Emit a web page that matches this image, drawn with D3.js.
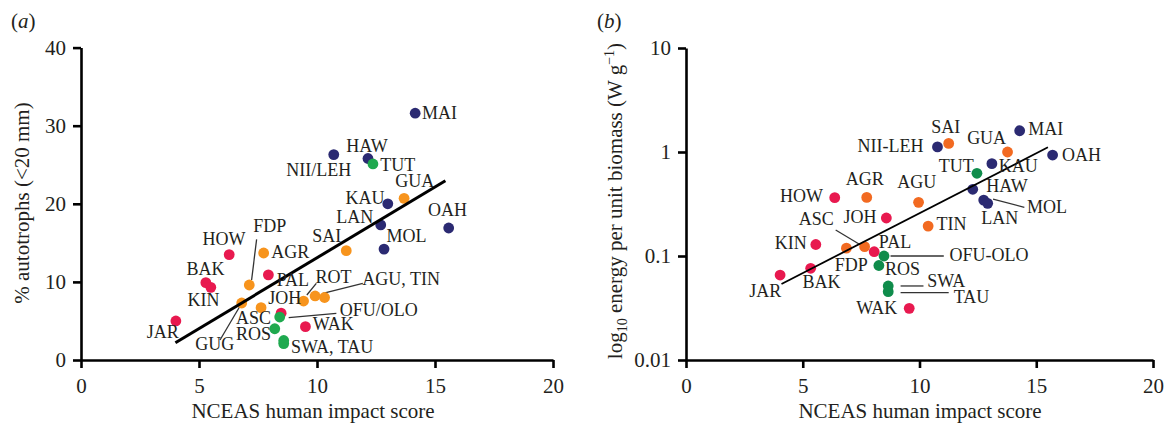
<!DOCTYPE html>
<html>
<head>
<meta charset="utf-8">
<script src="https://cdn.jsdelivr.net/npm/d3@7"></script>
<style>
  body { margin: 0; background: #fff; }
  text { font-family: "Liberation Serif", "Times New Roman", serif; fill: #231f20; }
</style>
</head>
<body>
<svg id="chart"></svg>
<script>
// ---- data ----
const xTicks = [0, 5, 10, 15, 20];
const yTicksA = [0, 10, 20, 30, 40];
const yTicksB = [0.01, 0.1, 1, 10];

// panel (a): NCEAS score vs % autotrophs
const sitesA = [
    { site: "MAI", impact: 14.16, value: 31.6, group: "navy" },
    { site: "NII/LEH", impact: 10.71, value: 26.3, group: "navy" },
    { site: "HAW", impact: 12.16, value: 25.8, group: "navy" },
    { site: "TUT", impact: 12.37, value: 25.1, group: "green" },
    { site: "GUA", impact: 13.69, value: 20.7, group: "orange" },
    { site: "KAU", impact: 13.0, value: 20.0, group: "navy" },
    { site: "LAN", impact: 12.70, value: 17.3, group: "navy" },
    { site: "OAH", impact: 15.58, value: 16.9, group: "navy" },
    { site: "MOL", impact: 12.84, value: 14.2, group: "navy" },
    { site: "SAI", impact: 11.24, value: 14.0, group: "orange" },
    { site: "HOW", impact: 6.28, value: 13.5, group: "red" },
    { site: "AGR", impact: 7.74, value: 13.7, group: "orange" },
    { site: "PAL", impact: 7.94, value: 10.9, group: "red" },
    { site: "FDP", impact: 7.13, value: 9.6, group: "orange" },
    { site: "BAK", impact: 5.29, value: 9.9, group: "red" },
    { site: "KIN", impact: 5.50, value: 9.3, group: "red" },
    { site: "GUG", impact: 6.81, value: 7.3, group: "orange" },
    { site: "ASC", impact: 7.63, value: 6.7, group: "orange" },
    { site: "JOH", impact: 8.48, value: 6.0, group: "red" },
    { site: "ROT", impact: 9.43, value: 7.55, group: "orange" },
    { site: "AGU", impact: 9.92, value: 8.2, group: "orange" },
    { site: "TIN", impact: 10.32, value: 8.0, group: "orange" },
    { site: "OFU/OLO", impact: 8.42, value: 5.5, group: "green" },
    { site: "ROS", impact: 8.21, value: 4.0, group: "green" },
    { site: "SWA", impact: 8.59, value: 2.1, group: "green" },
    { site: "TAU", impact: 8.59, value: 2.5, group: "green" },
    { site: "WAK", impact: 9.51, value: 4.27, group: "red" },
    { site: "JAR", impact: 4.02, value: 5.0, group: "red" }
];
const fitA = [{ impact: 4.0, value: 2.2 }, { impact: 15.44, value: 22.96 }];

// label anchors in data units (x, y of baseline start)
const labelsA = [
    { text: "MAI", x: 14.45, y: 30.86 },
    { text: "HAW", x: 11.24, y: 26.67 },
    { text: "TUT", x: 12.68, y: 24.24 },
    { text: "NII/LEH", x: 11.45, y: 23.6, anchor: "end" },
    { text: "GUA", x: 13.32, y: 22.11 },
    { text: "KAU", x: 11.21, y: 19.97 },
    { text: "OAH", x: 14.70, y: 18.48 },
    { text: "LAN", x: 10.82, y: 17.58 },
    { text: "SAI", x: 9.80, y: 15.15 },
    { text: "MOL", x: 12.94, y: 15.07 },
    { text: "HOW", x: 5.15, y: 14.72 },
    { text: "FDP", x: 7.30, y: 16.35 },
    { text: "AGR", x: 8.06, y: 13.02 },
    { text: "BAK", x: 4.47, y: 10.88 },
    { text: "PAL", x: 8.29, y: 9.51 },
    { text: "ROT", x: 9.94, y: 9.82 },
    { text: "AGU, TIN", x: 11.92, y: 9.60 },
    { text: "KIN", x: 4.51, y: 6.91 },
    { text: "JOH", x: 7.93, y: 7.17 },
    { text: "OFU/OLO", x: 10.96, y: 5.63 },
    { text: "ASC", x: 6.57, y: 4.61 },
    { text: "WAK", x: 9.82, y: 3.84 },
    { text: "ROS", x: 6.57, y: 2.56 },
    { text: "JAR", x: 2.79, y: 2.78 },
    { text: "GUG", x: 4.84, y: 1.28 },
    { text: "SWA, TAU", x: 8.90, y: 0.93 }
];
const leadersA = [
    [7.23, 10.24, 7.44, 15.45],
    [9.57, 8.32, 9.97, 9.82],
    [10.25, 8.54, 11.94, 9.82],
    [8.80, 5.42, 10.82, 5.98],
    [5.89, 2.56, 6.74, 6.91]
];

// panel (b): NCEAS score vs energy per unit biomass
const sitesB = [
    { site: "MAI", impact: 14.29, value: 1.60, group: "navy" },
    { site: "NII-LEH", impact: 10.77, value: 1.12, group: "navy" },
    { site: "SAI", impact: 11.25, value: 1.21, group: "orange" },
    { site: "GUA", impact: 13.77, value: 1.0, group: "orange" },
    { site: "OAH", impact: 15.70, value: 0.935, group: "navy" },
    { site: "KAU", impact: 13.10, value: 0.772, group: "navy" },
    { site: "TUT", impact: 12.46, value: 0.624, group: "green" },
    { site: "HAW", impact: 12.28, value: 0.438, group: "navy" },
    { site: "MOL", impact: 12.75, value: 0.345, group: "navy" },
    { site: "LAN", impact: 12.92, value: 0.321, group: "navy" },
    { site: "AGU", impact: 9.96, value: 0.328, group: "orange" },
    { site: "AGR", impact: 7.74, value: 0.366, group: "orange" },
    { site: "HOW", impact: 6.37, value: 0.364, group: "red" },
    { site: "JOH", impact: 8.58, value: 0.232, group: "red" },
    { site: "TIN", impact: 10.37, value: 0.194, group: "orange" },
    { site: "KIN", impact: 5.56, value: 0.129, group: "red" },
    { site: "FDP", impact: 6.87, value: 0.119, group: "orange" },
    { site: "ASC", impact: 7.65, value: 0.123, group: "orange" },
    { site: "PAL", impact: 8.06, value: 0.110, group: "red" },
    { site: "OFU-OLO", impact: 8.48, value: 0.100, group: "green" },
    { site: "ROS", impact: 8.26, value: 0.081, group: "green" },
    { site: "SWA", impact: 8.66, value: 0.0515, group: "green" },
    { site: "TAU", impact: 8.66, value: 0.0454, group: "green" },
    { site: "WAK", impact: 9.56, value: 0.0314, group: "red" },
    { site: "BAK", impact: 5.34, value: 0.0762, group: "red" },
    { site: "JAR", impact: 4.03, value: 0.0656, group: "red" }
];
const fitB = [{ impact: 4.09, value: 0.0538 }, { impact: 15.5, value: 1.11 }];

const labelsB = [
    { text: "NII-LEH", x: 10.17, y: 1.0, anchor: "end" },
    { text: "SAI", x: 10.50, y: 1.52 },
    { text: "GUA", x: 12.04, y: 1.19 },
    { text: "MAI", x: 14.66, y: 1.46 },
    { text: "OAH", x: 16.10, y: 0.818 },
    { text: "TUT", x: 10.82, y: 0.647 },
    { text: "KAU", x: 13.39, y: 0.647 },
    { text: "HAW", x: 12.86, y: 0.415 },
    { text: "MOL", x: 14.60, y: 0.258 },
    { text: "LAN", x: 12.64, y: 0.202 },
    { text: "AGU", x: 9.05, y: 0.448 },
    { text: "AGR", x: 6.84, y: 0.482 },
    { text: "HOW", x: 4.03, y: 0.328 },
    { text: "TIN", x: 10.73, y: 0.178 },
    { text: "ASC", x: 4.83, y: 0.199 },
    { text: "JOH", x: 6.75, y: 0.207 },
    { text: "KIN", x: 3.80, y: 0.116 },
    { text: "PAL", x: 8.26, y: 0.120 },
    { text: "OFU-OLO", x: 11.29, y: 0.0902 },
    { text: "FDP", x: 6.37, y: 0.0723 },
    { text: "ROS", x: 8.52, y: 0.0656 },
    { text: "BAK", x: 4.99, y: 0.0489 },
    { text: "JAR", x: 2.71, y: 0.0404 },
    { text: "SWA", x: 10.33, y: 0.0500 },
    { text: "TAU", x: 11.47, y: 0.0356 },
    { text: "WAK", x: 7.29, y: 0.0275 }
];
const leadersB = [
    [6.41, 0.178, 7.48, 0.1276],
    [8.76, 0.1, 11.04, 0.1],
    [9.19, 0.0515, 10.17, 0.0515],
    [9.19, 0.0444, 11.25, 0.0444],
    [13.15, 0.353, 14.49, 0.294]
];

// ---- drawing ----
const W = 1165, H = 423;
const svg = d3.select("#chart").attr("width", W).attr("height", H);

const paletteA = { navy: "#2b2a72", green: "#1fa94f", orange: "#f7941d", red: "#e8194f" };
const paletteB = { navy: "#2b2a72", green: "#0f8c4b", orange: "#f26a21", red: "#e8194f" };

function drawPanel(opts) {
    const g = svg.append("g");
    const x = d3.scaleLinear().domain([0, 20]).range([opts.left, opts.right]);
    const y = opts.log
        ? d3.scaleLog().domain([0.01, 10]).range([360, 48])
        : d3.scaleLinear().domain([0, 40]).range([360, 47.6]);

    // axes
    const xAxis = g.append("g")
        .attr("transform", "translate(0,360)")
        .call(d3.axisBottom(x).tickValues(xTicks).tickSize(8).tickPadding(10).tickSizeOuter(0));
    const yAxis = g.append("g")
        .attr("transform", `translate(${opts.left},0)`)
        .call(d3.axisLeft(y).tickValues(opts.yTicks).tickFormat(d => String(d))
            .tickSize(8).tickPadding(7).tickSizeOuter(0));
    [xAxis, yAxis].forEach(a => {
        a.select(".domain").attr("stroke", "#000").attr("stroke-width", 2.6);
        a.selectAll(".tick line").attr("stroke", "#000").attr("stroke-width", 2.6);
        a.selectAll(".tick text").attr("font-size", "21px").attr("fill", "#231f20")
            .attr("font-family", "Liberation Serif, serif");
    });

    // leader lines
    g.append("g").selectAll("line")
        .data(opts.leaders)
        .enter().append("line")
        .attr("x1", d => x(d[0])).attr("y1", d => y(d[1]))
        .attr("x2", d => x(d[2])).attr("y2", d => y(d[3]))
        .attr("stroke", "#333")
        .attr("stroke-width", 1.3);

    // points
    g.append("g").selectAll("circle")
        .data(opts.sites)
        .enter().append("circle")
        .attr("cx", d => x(d.impact))
        .attr("cy", d => y(d.value))
        .attr("r", 5.4)
        .attr("fill", d => opts.palette[d.group]);

    // fitted line
    const line = d3.line().x(d => x(d.impact)).y(d => y(d.value));
    g.append("path")
        .datum(opts.fit)
        .attr("d", line)
        .attr("fill", "none")
        .attr("stroke", "#000")
        .attr("stroke-width", opts.fitWidth);

    // site labels
    g.append("g").selectAll("text")
        .data(opts.labels)
        .enter().append("text")
        .attr("x", d => x(d.x))
        .attr("y", d => y(d.y))
        .attr("text-anchor", d => d.anchor || "start")
        .attr("font-size", "18px")
        .text(d => d.text);

    // x axis title
    g.append("text")
        .attr("x", opts.titleX)
        .attr("y", 418)
        .attr("text-anchor", "middle")
        .attr("font-size", "21px")
        .text("NCEAS human impact score");

    // panel tag
    g.append("text")
        .attr("x", opts.tagX)
        .attr("y", 28)
        .attr("font-size", "21px")
        .text("(")
        .append("tspan").attr("font-style", "italic").text(opts.tag)
        .select(function () { return this.parentNode; })
        .append("tspan").text(")");

    return g;
}

drawPanel({
    left: 81, right: 553, yTicks: yTicksA, sites: sitesA, palette: paletteA,
    fit: fitA, fitWidth: 3, labels: labelsA, leaders: leadersA,
    titleX: 313, tag: "a", tagX: 11
});

drawPanel({
    left: 686, right: 1153, log: true, yTicks: yTicksB, sites: sitesB, palette: paletteB,
    fit: fitB, fitWidth: 1.8, labels: labelsB, leaders: leadersB,
    titleX: 920, tag: "b", tagX: 597
});

// y axis titles
svg.append("text")
    .attr("transform", "translate(29,203) rotate(-90)")
    .attr("text-anchor", "middle")
    .attr("font-size", "21px")
    .text("% autotrophs (<20 mm)");

const yTitleB = svg.append("text")
    .attr("transform", "translate(622,201) rotate(-90)")
    .attr("text-anchor", "middle")
    .attr("font-size", "21px");
yTitleB.append("tspan").text("log");
yTitleB.append("tspan").attr("font-size", "14px").attr("dy", 5).text("10");
yTitleB.append("tspan").attr("dy", -5).text(" energy per unit biomass (W g");
yTitleB.append("tspan").attr("font-size", "14px").attr("dy", -8).text("\u22121");
yTitleB.append("tspan").attr("dy", 8).text(")");
</script>
</body>
</html>
